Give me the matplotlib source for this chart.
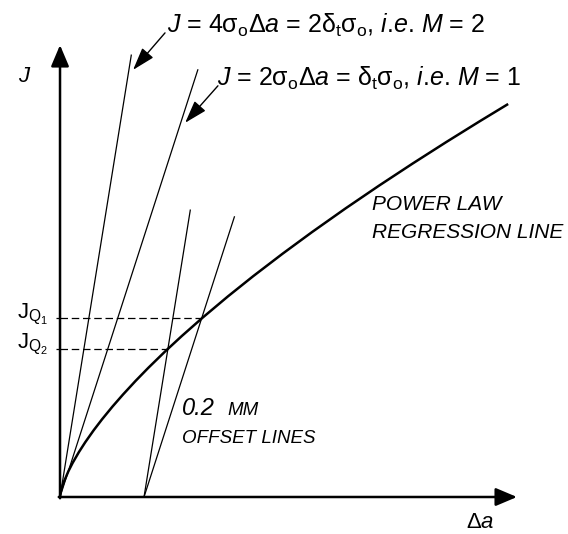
"""Schematic J-R curve with blunting lines and 0.2 mm offset lines. Saves out.png."""

import matplotlib

matplotlib.use("Agg")  # no display; we save PNGs
import matplotlib.pyplot as plt

plt.rcParams["font.family"] = ["Liberation Sans", "DejaVu Sans"]
plt.rcParams["mathtext.fontset"] = "custom"
plt.rcParams["mathtext.rm"] = "Liberation Sans"
plt.rcParams["mathtext.it"] = "Liberation Sans:italic"
plt.rcParams["mathtext.bf"] = "Liberation Sans:bold"

# power law regression line (crack growth in mm, J arbitrary)
DELTA_A = [0, 0.0005, 0.002, 0.005, 0.01, 0.02, 0.03, 0.045, 0.06, 0.08, 0.10, 0.125,
           0.15, 0.18, 0.21, 0.25, 0.29, 0.34, 0.40, 0.46, 0.53, 0.60, 0.68, 0.76,
           0.84, 0.92, 1.00, 1.067]
J_CURVE = [0, 0.0049, 0.0127, 0.0238, 0.0382, 0.0614, 0.0811, 0.1070, 0.1303, 0.1587,
           0.1849, 0.2154, 0.2440, 0.2765, 0.3073, 0.3463, 0.3833, 0.4274, 0.4778, 0.5258,
           0.5793, 0.6307, 0.6872, 0.7416, 0.7942, 0.8453, 0.8950, 0.9357]

SIGMA_O = 1.55              # flow stress, so blunting slope is 2*M*sigma_o
M_VALUES = [1, 2]
BLUNT_TOP_J = [1.017, 1.052]  # where the blunting lines stop
OFFSET = 0.2                # mm
OFFSET_TOP_J = [0.667, 0.683]
JQ_VALUES = [0.425, 0.353]  # J_Q1 (M = 1 offset), J_Q2 (M = 2 offset)
JQ_LABELS = [r"$\mathrm{J_{Q_1}}$", r"$\mathrm{J_{Q_2}}$"]

LABEL_M = {
    2: r"$J$ = 4$\mathrm{σ_oΔ}a$ = 2$\mathrm{δ_tσ_o}$, $i$.$e$. $M$ = 2",
    1: r"$J$ = 2$\mathrm{σ_oΔ}a$ = $\mathrm{δ_tσ_o}$, $i$.$e$. $M$ = 1",
}

fig = plt.figure(figsize=(5.68, 5.34), dpi=100)
ax = fig.add_axes([0, 0, 1, 1])
ax.set_xlim(-0.1429, 1.2095)
ax.set_ylim(-0.0881, 1.1833)

for s in ax.spines.values():
    s.set_visible(False)
ax.spines["left"].set_position(("data", 0))
ax.set_xticks([])
ax.set_yticks(JQ_VALUES)
ax.set_yticklabels([])
ax.tick_params(axis="y", direction="out", length=3, width=0.9)

# axes with arrow heads
arrow = dict(arrowstyle="-|>,head_length=1.3,head_width=0.55", mutation_scale=10,
             lw=1.8, color="black", shrinkA=0, shrinkB=0)
ax.annotate("", xy=(0, 1.076), xytext=(0, -0.003), arrowprops=arrow)
ax.annotate("", xy=(1.088, 0), xytext=(-0.003, 0), arrowprops=arrow)
ax.text(-0.1, 0.988, "$J$", fontsize=16, ha="left", va="baseline")
ax.text(0.966, -0.073, r"Δ$a$", fontsize=16, ha="left", va="baseline")

# regression curve
ax.plot(DELTA_A, J_CURVE, color="black", lw=1.8, solid_capstyle="butt")

# blunting lines through the origin, offset lines parallel to them
for m, top, otop in zip(M_VALUES, BLUNT_TOP_J, OFFSET_TOP_J):
    slope = 2 * m * SIGMA_O
    ax.plot([0, top / slope], [0, top], color="black", lw=0.9)
    ax.plot([OFFSET, OFFSET + otop / slope], [0, otop], color="black", lw=0.9)

# J_Q where the offset lines cut the curve
for m, jq, lab in zip(M_VALUES, JQ_VALUES, JQ_LABELS):
    xq = OFFSET + jq / (2 * m * SIGMA_O)
    ax.plot([0, xq], [jq, jq], color="black", lw=0.9, linestyle=(0, (6, 3)))
    ax.text(-0.029, jq, lab, fontsize=16, ha="right", va="baseline")

# annotations for the blunting lines
head = dict(arrowstyle="-|>,head_length=1.4,head_width=0.45", mutation_scale=10,
            lw=1.0, color="black", shrinkA=0, shrinkB=0)
ax.text(0.255, 1.105, LABEL_M[2], fontsize=18, ha="left", va="baseline")
ax.annotate("", xy=(0.174, 1.017), xytext=(0.250, 1.105), arrowprops=head)
ax.text(0.374, 0.979, LABEL_M[1], fontsize=18, ha="left", va="baseline")
ax.annotate("", xy=(0.298, 0.891), xytext=(0.376, 0.979), arrowprops=head)

ax.text(0.743, 0.683, "POWER LAW", fontsize=15, style="italic", ha="left", va="baseline")
ax.text(0.743, 0.617, "REGRESSION LINE", fontsize=15, style="italic", ha="left", va="baseline")

ax.text(0.290, 0.195, "0.2", fontsize=17, style="italic", ha="left", va="baseline")
ax.text(0.398, 0.195, "MM", fontsize=13.5, style="italic", ha="left", va="baseline")
ax.text(0.290, 0.129, "OFFSET LINES", fontsize=13.5, style="italic", ha="left", va="baseline")

fig.savefig("out.png", dpi=100)
plt.close(fig)
